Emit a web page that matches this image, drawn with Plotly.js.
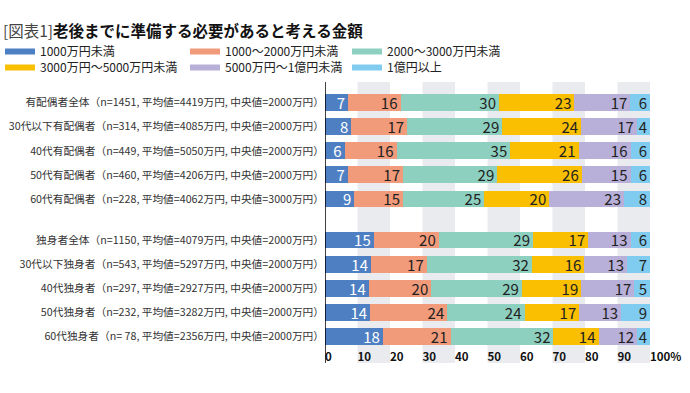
<!DOCTYPE html>
<html>
<head>
<meta charset="utf-8">
<script src="https://cdn.plot.ly/plotly-3.0.1.min.js"></script>
<style>html,body{margin:0;padding:0;background:#fff;}#chart{width:690px;height:393px;}</style>
</head>
<body>
<div id="chart"></div>
<script>
// ---- data ----
const titleText = "<span style='color:#444'>[図表1]</span><b>老後までに準備する必要があると考える金額</b>";
const groupMarried = [
  "有配偶者全体（n=1451, 平均値=4419万円, 中央値=2000万円）",
  "30代以下有配偶者（n=314, 平均値=4085万円, 中央値=2000万円）",
  "40代有配偶者（n=449, 平均値=5050万円, 中央値=2000万円）",
  "50代有配偶者（n=460, 平均値=4206万円, 中央値=2000万円）",
  "60代有配偶者（n=228, 平均値=4062万円, 中央値=3000万円）"
];
const groupSingle = [
  "独身者全体（n=1150, 平均値=4079万円, 中央値=2000万円）",
  "30代以下独身者（n=543, 平均値=5297万円, 中央値=2000万円）",
  "40代独身者（n=297, 平均値=2927万円, 中央値=2000万円）",
  "50代独身者（n=232, 平均値=3282万円, 中央値=2000万円）",
  "60代独身者（n= 78, 平均値=2356万円, 中央値=2000万円）"
];
const seriesNames = ["1000万円未満", "1000～2000万円未満", "2000～3000万円未満",
                     "3000万円～5000万円未満", "5000万円～1億円未満", "1億円以上"];
// values: 5 married rows then 5 single rows
const under1000   = [7, 8, 6, 7, 9, 15, 14, 14, 14, 18];
const s1000to2000 = [16, 17, 16, 17, 15, 20, 17, 20, 24, 21];
const s2000to3000 = [30, 29, 35, 29, 25, 29, 32, 29, 24, 32];
const s3000to5000 = [23, 24, 21, 26, 20, 17, 16, 19, 17, 14];
const s5000to1oku = [17, 17, 16, 15, 23, 13, 13, 17, 13, 12];
const over1oku    = [6, 4, 6, 6, 8, 6, 7, 5, 9, 4];
const tickVals = [0, 10, 20, 30, 40, 50, 60, 70, 80, 90, 100];
const tickText = ["0", "10", "20", "30", "40", "50", "60", "70", "80", "90", "100%"];
const bandStarts = [10, 30, 50, 70, 90];

// ---- style ----
const colors = ["#4f7fc3", "#f19b7b", "#8dd0c0", "#f9bf00", "#b8b0d9", "#80ccf0"];
const textColors = ["#ffffff", "#222222", "#222222", "#222222", "#222222", "#222222"];
const FONT = "'Noto Sans CJK JP', 'Noto Sans', sans-serif";
const allSeries = [under1000, s1000to2000, s2000to3000, s3000to5000, s5000to1oku, over1oku];

const W = 690, H = 393, ML = 325, MR = 40, MT = 82, MB = 30;
const PW = W - ML - MR, PH = H - MT - MB;

const traces = [];
[[groupMarried, 0, 'y'], [groupSingle, 5, 'y2']].forEach(([cats, off, ya]) => {
  allSeries.forEach((vals, i) => {
    const v = vals.slice(off, off + 5);
    traces.push({
      type: 'bar', orientation: 'h',
      y: cats, x: v, text: v.map(String), texttemplate: '%{text}',
      textposition: 'inside', insidetextanchor: 'end', textangle: 0,
      constraintext: 'none',
      insidetextfont: {family: FONT, size: 15, color: textColors[i]},
      marker: {color: colors[i], line: {width: 0}},
      name: seriesNames[i], showlegend: false, hoverinfo: 'skip',
      xaxis: 'x', yaxis: ya
    });
  });
});

// legend entries (one small legend per entry), positions in pixels
const legendPos = [[0, 51.5], [185, 51.5], [347, 51.5], [0, 67.5], [185, 67.5], [347, 67.5]];
const legendLayouts = {};
seriesNames.forEach((nm, i) => {
  const key = i === 0 ? 'legend' : 'legend' + (i + 1);
  traces.push({
    type: 'scatter', mode: 'lines', x: [0], y: [groupMarried[0]],
    line: {color: colors[i], width: 6}, name: nm, showlegend: true,
    legend: key, xaxis: 'x', yaxis: 'y', hoverinfo: 'skip'
  });
  legendLayouts[key] = {
    x: (legendPos[i][0] - ML) / PW, y: (H - MB - legendPos[i][1]) / PH,
    xanchor: 'left', yanchor: 'middle',
    bgcolor: 'rgba(0,0,0,0)', borderwidth: 0,
    font: {family: FONT, size: 12, color: '#222'}
  };
});

const shapes = bandStarts.map(s => ({
  type: 'rect', xref: 'x', yref: 'paper', x0: s, x1: s + 10, y0: 0, y1: 1,
  fillcolor: '#e9ebee', line: {width: 0}, layer: 'below'
}));
shapes.push({type: 'line', xref: 'x', yref: 'paper', x0: 0, x1: 0, y0: 0, y1: 1,
  line: {color: '#000', width: 1.5}, layer: 'above'});

const layout = Object.assign({
  width: W, height: H,
  margin: {l: ML, r: MR, t: MT, b: MB, pad: 0, autoexpand: false},
  paper_bgcolor: '#fff', plot_bgcolor: 'rgba(0,0,0,0)',
  barmode: 'stack', barnorm: 'percent', bargap: 0.3,
  font: {family: FONT, color: '#333'},
  title: {text: titleText, xref: 'container', yref: 'container',
          x: 3 / W, xanchor: 'left', y: 1 - 32 / H, yanchor: 'middle',
          font: {family: FONT, size: 15.5, color: '#111'}},
  xaxis: {range: [0, 100], autorange: false, anchor: 'y2', tickmode: 'array',
          tickvals: tickVals, ticktext: tickText,
          ticklabelposition: 'outside right', ticks: '', showgrid: false, zeroline: false,
          showline: false, fixedrange: true,
          tickfont: {family: FONT, size: 11.5, color: '#111', weight: 'bold'}},
  yaxis: {domain: [0.5409, 0.9694], anchor: 'x', autorange: 'reversed', type: 'category',
          ticks: '', showgrid: false, zeroline: false, showline: false,
          tickfont: {family: FONT, size: 10.7, color: '#333'}},
  yaxis2: {domain: [0.0505, 0.4808], anchor: 'x', autorange: 'reversed', type: 'category',
          ticks: '', showgrid: false, zeroline: false, showline: false,
          tickfont: {family: FONT, size: 10.7, color: '#333'}},
  shapes: shapes
}, legendLayouts);

Plotly.newPlot('chart', traces, layout, {staticPlot: true, displayModeBar: false});
</script>
</body>
</html>
